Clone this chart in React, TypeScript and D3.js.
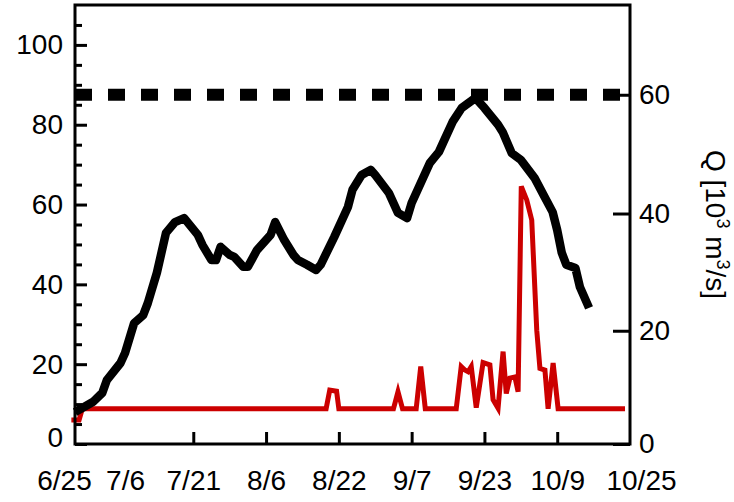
import React, { useRef, useEffect } from 'react';
import * as d3 from 'd3';

const year = 2010;

// x axis: date labels and the dates that carry a tick mark
const xTickLabels = ['6/25', '7/6', '7/21', '8/6', '8/22', '9/7', '9/23', '10/9', '10/25'];
const xTickMarks = ['7/21', '8/6', '8/22', '9/7', '9/23', '10/9'];

// left axis (black line)
const leftTicks = [0, 20, 40, 60, 80, 100];
const leftMinorTicks = [5, 10, 15, 25, 30, 35, 45, 50, 55, 65, 70, 75, 85, 90, 95, 105];

// right axis, Q [10^3 m^3/s] (red line, dashed level)
const rightTicks = [0, 20, 40, 60];
const qLevel = 60;

// black line: days after 6/25, value on left axis
const blackDays = [
  0, 4, 6, 7, 10, 11, 13, 15, 16, 18, 20, 22, 24, 27, 28, 30, 31, 32, 34, 35,
  37, 38, 40, 43, 44, 46, 48, 49, 51, 53, 54, 57, 60, 61, 63, 65, 66, 69, 71, 73,
  74, 78, 80, 81, 83, 85, 88, 90, 93, 94, 96, 98, 101, 103, 105, 106, 107, 108, 110, 111,
  113,
];
const blackValues = [
  8.0, 10.6, 12.8, 16.0, 20.3, 22.8, 30.3, 32.3, 35.3, 42.9, 52.9, 55.6, 56.6, 52.4, 49.9, 46.1, 46.1, 49.4, 47.4, 46.9,
  44.4, 44.4, 48.6, 52.4, 55.6, 51.1, 47.4, 46.1, 44.9, 43.6, 44.9, 51.9, 59.4, 63.7, 67.4, 68.7, 67.4, 62.9, 57.9, 56.6,
  60.4, 70.4, 73.2, 75.7, 80.7, 84.2, 86.7, 84.2, 80.0, 78.2, 72.9, 71.2, 66.7, 62.4, 58.1, 53.6, 47.9, 44.9, 44.1, 39.3,
  34.1,
];

// red line: days after 6/25, Q on right axis
const redDays = [
  -0.8, 0.9, 1.6, 55.2, 56, 57.5, 58, 70, 71, 72, 75, 76, 77, 83.8, 84.9, 85.7, 86.4, 87.1, 88.2, 89.7,
  91.2, 91.9, 93, 94.1, 94.8, 95.6, 96.7, 97.4, 98.1, 99.3, 100.4, 101.5, 102.2, 103.3, 104, 105.1, 106.2, 120.9,
];
const redValues = [
  4.4, 4.4, 6.4, 6.4, 9.7, 9.5, 6.4, 6.4, 9.4, 6.4, 6.4, 13.8, 6.4, 6.4, 13.8, 13.2, 12.9, 13.8, 6.6, 14.5,
  14.1, 8.0, 6.5, 16.4, 9.1, 11.8, 12.0, 9.4, 44.6, 42.3, 38.9, 20.1, 13.5, 13.2, 6.4, 14.4, 6.4, 6.4,
];

const font = '"Liberation Sans", Arial, Helvetica, sans-serif';
const fontSize = 28;

export default function App() {
  const ref = useRef<SVGSVGElement>(null);

  useEffect(() => {
    const svg = d3.select(ref.current);
    svg.selectAll('*').remove();

    const plot = { left: 75, right: 630, top: 5, bottom: 444 };

    const parseDate = d3.utcParse('%Y/%m/%d');
    const toDate = (s: string) => parseDate(`${year}/${s}`) as Date;
    const start = toDate(xTickLabels[0]);
    const end = toDate(xTickLabels[xTickLabels.length - 1]);
    const dayToDate = (d: number) => new Date(start.getTime() + d * 864e5);

    const x = d3.scaleUtc().domain([start, end]).range([plot.left, plot.right]);
    const yLeft = d3.scaleLinear().domain([0, 110]).range([plot.bottom, plot.top]);
    const yRight = d3.scalePow().exponent(1.025).domain([0, 75]).range([plot.bottom, plot.top]);

    // dashed level
    svg.append('line')
      .attr('x1', plot.left)
      .attr('x2', plot.right)
      .attr('y1', yRight(qLevel))
      .attr('y2', yRight(qLevel))
      .attr('stroke', '#000')
      .attr('stroke-width', 12)
      .attr('stroke-dasharray', '17 16');

    const redLine = d3.line<number>()
      .x((d, i) => x(dayToDate(redDays[i])))
      .y((d) => yRight(d));

    svg.append('path')
      .attr('d', redLine(redValues))
      .attr('fill', 'none')
      .attr('stroke', '#cc0000')
      .attr('stroke-width', 5)
      .attr('stroke-linejoin', 'miter');

    const blackLine = d3.line<number>()
      .x((d, i) => x(dayToDate(blackDays[i])))
      .y((d) => yLeft(d));

    svg.append('path')
      .attr('d', blackLine(blackValues))
      .attr('fill', 'none')
      .attr('stroke', '#000')
      .attr('stroke-width', 8.5)
      .attr('stroke-linejoin', 'round');

    const styleAxis = (g) => {
      g.select('.domain').remove();
      g.selectAll('line').attr('stroke', '#000').attr('stroke-width', 3);
      g.selectAll('text').attr('font-family', font).attr('font-size', fontSize).attr('fill', '#000');
    };

    // left axis
    svg.append('g')
      .attr('transform', `translate(${plot.left}, 0)`)
      .call(d3.axisLeft(yLeft).tickValues(leftMinorTicks).tickFormat(() => '').tickSizeInner(-7).tickSizeOuter(0))
      .call(styleAxis);
    svg.append('g')
      .attr('transform', `translate(${plot.left}, 0)`)
      .call(d3.axisLeft(yLeft).tickValues(leftTicks).tickSizeInner(-12).tickSizeOuter(0).tickPadding(12))
      .call(styleAxis)
      // the zero label sits a little above the bottom edge
      .call((g) => g.selectAll('.tick').filter((d) => d === 0).select('text').attr('dy', '0.1em'));

    // right axis
    svg.append('g')
      .attr('transform', `translate(${plot.right}, 0)`)
      .call(d3.axisRight(yRight).tickValues(rightTicks).tickSizeInner(-17).tickSizeOuter(0).tickPadding(9))
      .call(styleAxis);

    // bottom axis: marks and labels
    svg.append('g')
      .attr('transform', `translate(0, ${plot.bottom})`)
      .call(d3.axisBottom(x).tickValues(xTickMarks.map(toDate)).tickFormat(() => '').tickSizeInner(-12).tickSizeOuter(0))
      .call(styleAxis);
    svg.append('g')
      .attr('transform', `translate(0, ${plot.bottom})`)
      .call(d3.axisBottom(x).tickValues(xTickLabels.map(toDate)).tickFormat((d, i) => xTickLabels[i]).tickSize(0).tickPadding(26))
      .call(styleAxis)
      .call((g) => {
        const n = xTickLabels.length;
        g.selectAll('.tick text').attr('dx', (d, i) => (i === 0 ? -11 : i === n - 1 ? 11 : 0));
      });

    // frame
    svg.append('rect')
      .attr('x', plot.left)
      .attr('y', plot.top)
      .attr('width', plot.right - plot.left)
      .attr('height', plot.bottom - plot.top)
      .attr('fill', 'none')
      .attr('stroke', '#000')
      .attr('stroke-width', 3);

    // right axis title
    const title = svg.append('text')
      .attr('transform', `translate(706, ${(plot.top + plot.bottom) / 2}) rotate(90)`)
      .attr('text-anchor', 'middle')
      .attr('font-family', font)
      .attr('font-size', fontSize)
      .attr('fill', '#000');
    title.append('tspan').text('Q [10');
    title.append('tspan').attr('font-size', 18).attr('dy', -11).text('3');
    title.append('tspan').attr('dy', 11).text(' m');
    title.append('tspan').attr('font-size', 18).attr('dy', -11).text('3');
    title.append('tspan').attr('dy', 11).text('/s]');
  }, []);

  return (
    <svg
      ref={ref}
      width={734}
      height={502}
      style={{ position: 'absolute', left: 0, top: 0, background: '#fff' }}
    />
  );
}
